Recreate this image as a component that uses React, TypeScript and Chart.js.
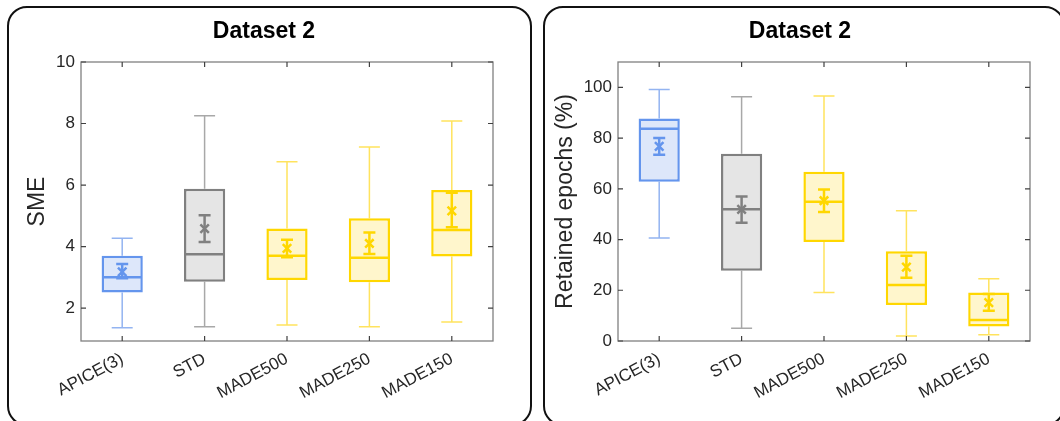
import React, { useEffect, useRef } from "react";
import { Chart, registerables } from "chart.js";

Chart.register(...registerables);
Chart.defaults.font.family = "'Liberation Sans', Arial, Helvetica, sans-serif";

// ---------- Data ----------
const categories = ["APICE(3)", "STD", "MADE500", "MADE250", "MADE150"];

const boxStroke = ["#6495ED", "#808080", "#FFD700", "#FFD700", "#FFD700"];
const boxFill = ["#dde7fa", "#e5e5e5", "#fff6cc", "#fff6cc", "#fff6cc"];
const whiskerColor = ["#93b4f1", "#a8a8a8", "#ffe35e", "#ffe35e", "#ffe35e"];

// Panel 1: SME
const smeLow = [1.36, 1.39, 1.45, 1.39, 1.55];
const smeQ1 = [2.51, 2.86, 2.91, 2.84, 3.68];
const smeMedian = [3.0, 3.75, 3.7, 3.64, 4.54];
const smeQ3 = [3.7, 5.88, 4.59, 4.92, 5.84];
const smeHigh = [4.27, 8.25, 6.76, 7.24, 8.08];
const smeMean = [3.18, 4.58, 3.94, 4.1, 5.16];
const smeCiLow = [2.97, 4.15, 3.65, 3.76, 4.63];
const smeCiHigh = [3.43, 5.02, 4.22, 4.46, 5.75];
const smeTicks = [2, 4, 6, 8, 10];

// Panel 2: Retained epochs (%)
const retLow = [40.6, 5.0, 19.1, 2.0, 2.5];
const retQ1 = [62.8, 27.7, 39.0, 14.2, 5.7];
const retMedian = [83.7, 51.9, 54.9, 22.1, 8.3];
const retQ3 = [87.7, 73.8, 66.7, 35.4, 19.1];
const retHigh = [99.2, 96.3, 96.6, 51.4, 24.5];
const retMean = [76.7, 51.9, 55.3, 29.1, 15.1];
const retCiLow = [73.4, 46.6, 50.9, 24.9, 11.9];
const retCiHigh = [80.0, 57.0, 59.7, 33.6, 18.5];
const retTicks = [0, 20, 40, 60, 80, 100];

type PanelProps = {
  title: string;
  titleX: number;
  yLabel: string;
  low: number[];
  q1: number[];
  median: number[];
  q3: number[];
  high: number[];
  mean: number[];
  ciLow: number[];
  ciHigh: number[];
  yTicks: number[];
  yMin: number;
  yMax: number;
  canvasLeft: number;
  canvasWidth: number;
  yAxisWidth: number;
  rightPad: number;
  yTitlePad: number;
};

function makeExtrasPlugin(p: PanelProps) {
  return {
    id: "boxExtras",
    beforeDatasetsDraw(chart: any) {
      const ctx = chart.ctx;
      const xs = chart.scales.x;
      const ys = chart.scales.y;
      ctx.save();
      ctx.lineWidth = 1.5;
      for (let i = 0; i < categories.length; i++) {
        const x = xs.getPixelForValue(i);
        ctx.strokeStyle = whiskerColor[i];
        const capW = 21;
        ctx.beginPath();
        ctx.moveTo(x, ys.getPixelForValue(p.low[i]));
        ctx.lineTo(x, ys.getPixelForValue(p.q1[i]));
        ctx.moveTo(x, ys.getPixelForValue(p.q3[i]));
        ctx.lineTo(x, ys.getPixelForValue(p.high[i]));
        ctx.moveTo(x - capW / 2, ys.getPixelForValue(p.low[i]));
        ctx.lineTo(x + capW / 2, ys.getPixelForValue(p.low[i]));
        ctx.moveTo(x - capW / 2, ys.getPixelForValue(p.high[i]));
        ctx.lineTo(x + capW / 2, ys.getPixelForValue(p.high[i]));
        ctx.stroke();
      }
      ctx.restore();
    },
    afterDatasetsDraw(chart: any) {
      const ctx = chart.ctx;
      const ys = chart.scales.y;
      const meta = chart.getDatasetMeta(1);
      ctx.save();
      for (let i = 0; i < categories.length; i++) {
        const bar: any = meta.data[i];
        const x = bar.x;
        const w = bar.width;
        ctx.strokeStyle = boxStroke[i];
        ctx.lineWidth = 2.5;
        const ym = ys.getPixelForValue(p.median[i]);
        ctx.beginPath();
        ctx.moveTo(x - w / 2 + 1, ym);
        ctx.lineTo(x + w / 2 - 1, ym);
        ctx.stroke();
        // confidence interval of the mean
        const yl = ys.getPixelForValue(p.ciLow[i]);
        const yh = ys.getPixelForValue(p.ciHigh[i]);
        const cw = 12;
        ctx.beginPath();
        ctx.moveTo(x, yl);
        ctx.lineTo(x, yh);
        ctx.moveTo(x - cw / 2, yl);
        ctx.lineTo(x + cw / 2, yl);
        ctx.moveTo(x - cw / 2, yh);
        ctx.lineTo(x + cw / 2, yh);
        ctx.stroke();
      }
      ctx.restore();
    },
    afterDraw(chart: any) {
      const ctx = chart.ctx;
      const { left, right, top, bottom } = chart.chartArea;
      const xs = chart.scales.x;
      const ys = chart.scales.y;
      ctx.save();
      ctx.strokeStyle = "#808080";
      ctx.lineWidth = 1.3;
      ctx.strokeRect(left, top, right - left, bottom - top);
      ctx.strokeStyle = "#404040";
      ctx.lineWidth = 1.2;
      const tl = 5;
      ctx.beginPath();
      ys.ticks.forEach((t: any) => {
        const y = ys.getPixelForValue(t.value);
        ctx.moveTo(left, y);
        ctx.lineTo(left + tl, y);
        ctx.moveTo(right, y);
        ctx.lineTo(right - tl, y);
      });
      for (let i = 0; i < categories.length; i++) {
        const x = xs.getPixelForTick(i);
        ctx.moveTo(x, bottom);
        ctx.lineTo(x, bottom - tl);
        ctx.moveTo(x, top);
        ctx.lineTo(x, top + tl);
      }
      ctx.stroke();
      // panel title
      ctx.fillStyle = "#000";
      ctx.font = "bold 23px 'Liberation Sans', Arial, Helvetica, sans-serif";
      ctx.textAlign = "center";
      ctx.textBaseline = "middle";
      ctx.fillText(p.title, p.titleX, 32);
      ctx.restore();
    },
  };
}

function Panel(p: PanelProps) {
  const ref = useRef<HTMLCanvasElement | null>(null);
  useEffect(() => {
    if (!ref.current) return;
    const chart = new Chart(ref.current, {
      type: "bar",
      data: {
        labels: categories,
        datasets: [
          {
            type: "line",
            data: p.mean,
            showLine: false,
            pointStyle: "crossRot",
            pointRadius: 6,
            pointBorderWidth: 2.5,
            pointBorderColor: boxStroke,
            pointBackgroundColor: boxStroke,
            order: 0,
          } as any,
          {
            type: "bar",
            data: p.q1.map((v, i) => [v, p.q3[i]]),
            backgroundColor: boxFill,
            borderColor: boxStroke,
            borderWidth: 2.5,
            borderSkipped: false,
            barPercentage: 0.5,
            categoryPercentage: 1,
            order: 1,
          } as any,
        ],
      },
      options: {
        responsive: false,
        animation: false,
        layout: { padding: { left: 0, right: p.rightPad, top: 62, bottom: 0 } },
        plugins: {
          legend: { display: false },
          tooltip: { enabled: false },
          title: { display: false },
        },
        scales: {
          x: {
            grid: { display: false, drawTicks: false },
            border: { display: false },
            ticks: {
              color: "#262626",
              font: { size: 17 },
              minRotation: 28,
              maxRotation: 28,
              padding: 8,
            },
            afterFit: (s: any) => {
              s.height = 80;
            },
          },
          y: {
            min: p.yMin,
            max: p.yMax,
            grid: { display: false, drawTicks: false },
            border: { display: false },
            ticks: {
              color: "#262626",
              font: { size: 17 },
              padding: 6,
            },
            afterBuildTicks: (s: any) => {
              s.ticks = p.yTicks.map((v) => ({ value: v }));
            },
            afterFit: (s: any) => {
              s.width = p.yAxisWidth;
            },
            title: {
              display: true,
              text: p.yLabel,
              color: "#262626",
              font: { size: 23 },
              padding: { top: p.yTitlePad, bottom: 0 },
            },
          },
        },
      } as any,
      plugins: [makeExtrasPlugin(p)],
    });
    return () => chart.destroy();
  }, []);
  return (
    <canvas
      ref={ref}
      width={p.canvasWidth}
      height={421}
      style={{
        position: "absolute",
        left: p.canvasLeft,
        top: 0,
        width: p.canvasWidth,
        height: 421,
      }}
    />
  );
}

export default function App() {
  useEffect(() => {
    document.body.style.margin = "0";
  }, []);
  const frame: React.CSSProperties = {
    position: "absolute",
    top: 6,
    height: 420,
    border: "2px solid #111",
    borderRadius: 20,
    boxSizing: "border-box",
  };
  return (
    <div
      style={{
        position: "fixed",
        left: 0,
        top: 0,
        width: 1060,
        height: 421,
        overflow: "hidden",
        background: "#fff",
      }}
    >
      <div style={{ ...frame, left: 7, width: 525 }} />
      <div style={{ ...frame, left: 543, width: 522 }} />
      <Panel
        title="Dataset 2"
        titleX={264}
        yLabel="SME"
        low={smeLow}
        q1={smeQ1}
        median={smeMedian}
        q3={smeQ3}
        high={smeHigh}
        mean={smeMean}
        ciLow={smeCiLow}
        ciHigh={smeCiHigh}
        yTicks={smeTicks}
        yMin={0.93}
        yMax={10}
        canvasLeft={0}
        canvasWidth={528}
        yAxisWidth={81}
        rightPad={35}
        yTitlePad={24}
      />
      <Panel
        title="Dataset 2"
        titleX={260}
        yLabel="Retained epochs (%)"
        low={retLow}
        q1={retQ1}
        median={retMedian}
        q3={retQ3}
        high={retHigh}
        mean={retMean}
        ciLow={retCiLow}
        ciHigh={retCiHigh}
        yTicks={retTicks}
        yMin={0}
        yMax={110}
        canvasLeft={540}
        canvasWidth={520}
        yAxisWidth={78}
        rightPad={30}
        yTitlePad={12}
      />
    </div>
  );
}
